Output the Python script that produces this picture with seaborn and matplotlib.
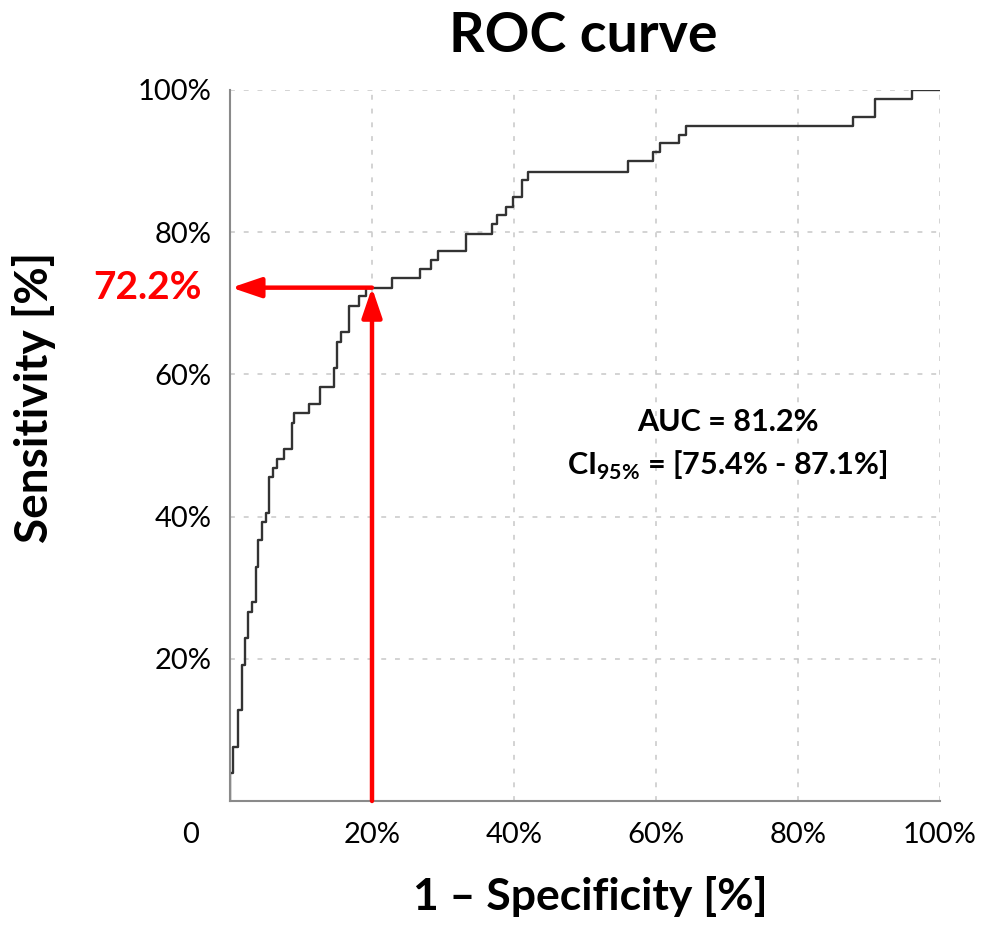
import numpy as np
import pandas as pd
import matplotlib
matplotlib.use("Agg")
import matplotlib.pyplot as plt
import seaborn as sns
from matplotlib.transforms import ScaledTranslation, blended_transform_factory

# ROC step curve (1 - specificity, sensitivity), in %
fpr = [0, 0, 0.46, 1.08, 1.65, 2.11, 2.58, 3.06, 3.62, 3.99,
       4.55, 5.03, 5.54, 6.01, 6.58, 7.65, 8.69, 9.06, 11.1, 12.7,
       14.7, 15.0, 15.6, 16.8, 18.2, 19.2, 22.8, 26.8, 28.3, 29.3,
       33.3, 36.9, 37.6, 38.9, 39.9, 41.1, 42.0, 56.1, 59.6, 60.6,
       63.3, 64.2, 87.8, 90.8, 96.0, 100]
tpr = [0, 3.9, 7.6, 12.8, 19.1, 22.9, 26.6, 28.0, 32.9, 36.7,
       39.2, 40.5, 45.6, 46.8, 48.1, 49.5, 53.2, 54.6, 55.9, 58.2,
       60.9, 64.6, 65.9, 69.6, 71.0, 72.2, 73.5, 74.8, 76.1, 77.4,
       79.8, 81.2, 82.4, 83.6, 84.9, 87.3, 88.5, 90.0, 91.3, 92.5,
       93.7, 95.0, 96.2, 98.7, 100, 100]

cut_fpr = 20
cut_tpr = 72.2
auc_text = "AUC = 81.2%"
ci_text = r"CI$_{\mathbf{95\%}}$ = [75.4% - 87.1%]"

x_ticks = [0, 20, 40, 60, 80, 100]
x_labels = ["0", "20%", "40%", "60%", "80%", "100%"]
y_ticks = [20, 40, 60, 80, 100]
y_labels = ["20%", "40%", "60%", "80%", "100%"]

sns.set_style("white")
plt.rcParams['font.family'] = ['Lato', 'DejaVu Sans']
plt.rcParams['mathtext.fontset'] = 'custom'
plt.rcParams['mathtext.rm'] = 'Lato'
plt.rcParams['mathtext.bf'] = 'Lato:bold'
plt.rcParams['text.color'] = 'black'
plt.rcParams['axes.labelcolor'] = 'black'
plt.rcParams['xtick.labelcolor'] = 'black'
plt.rcParams['ytick.labelcolor'] = 'black'

fig = plt.figure(figsize=(9.82, 9.27), dpi=100)
ax = fig.add_axes([230 / 982, 126 / 927, 710 / 982, 711 / 927])

df = pd.DataFrame({"fpr": fpr, "tpr": tpr})
sns.lineplot(data=df, x="fpr", y="tpr", estimator=None, sort=False,
             drawstyle="steps-post", color="#333333", linewidth=1.7, ax=ax)

ax.set_xlim(0, 100)
ax.set_ylim(0, 100)
ax.set_xticks(x_ticks)
ax.set_xticklabels(x_labels, fontsize=21)
ax.set_yticks(y_ticks)
ax.set_yticklabels(y_labels, fontsize=21)
ax.tick_params(axis='both', length=0)
ax.tick_params(axis='x', pad=15)
ax.tick_params(axis='y', pad=13)
# the "0" sits left of the origin
lbl0 = ax.get_xticklabels()[0]
lbl0.set_transform(lbl0.get_transform() + ScaledTranslation(-0.39, 0, fig.dpi_scale_trans))

ax.grid(True, color="#c8c8c8", linewidth=1.1, linestyle=(0, (3.2, 5.8)))
for s in ["top", "right"]:
    ax.spines[s].set_visible(False)
for s in ["left", "bottom"]:
    ax.spines[s].set_color("#8a8a8a")
    ax.spines[s].set_linewidth(1.5)

# cut-off arrows
arr = dict(arrowstyle="-|>,head_length=0.5,head_width=0.17", color="red",
           lw=3.2, mutation_scale=36, shrinkA=0, shrinkB=0)
ax.annotate("", xy=(cut_fpr, cut_tpr), xytext=(cut_fpr, 0), arrowprops=arr, zorder=5)
ax.annotate("", xy=(0.2, cut_tpr), xytext=(cut_fpr, cut_tpr), arrowprops=arr, zorder=5)
trans = blended_transform_factory(ax.transAxes, ax.transData)
ax.text(-0.04, cut_tpr, "72.2%", transform=trans, ha="right", va="center",
        color="red", fontsize=28, fontweight="bold")

ax.text(70.1, 53.3, auc_text, ha="center", va="center", fontsize=22, fontweight="bold")
ax.text(70.1, 47.2, ci_text, ha="center", va="center", fontsize=22, fontweight="bold")

ax.set_title("ROC curve", fontsize=40, fontweight="bold", pad=27, x=0.497)
ax.set_xlabel("1 \u2013 Specificity [%]", fontsize=32, fontweight="bold")
ax.set_ylabel("Sensitivity [%]", fontsize=33, fontweight="bold")
ax.xaxis.set_label_coords(0.507, -0.105)
ax.yaxis.set_label_coords(-0.245, 0.567)

fig.savefig("out.png", dpi=100)
